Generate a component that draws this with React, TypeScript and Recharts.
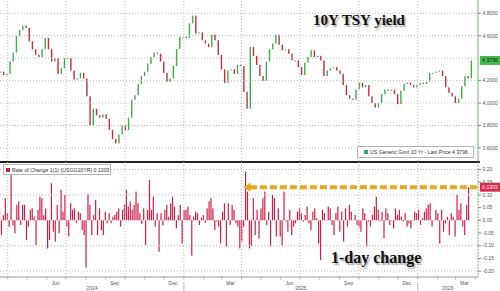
import React from "react";
import {
  ComposedChart,
  Bar,
  XAxis,
  YAxis,
  CartesianGrid,
  ReferenceLine,
  ReferenceDot
} from "recharts";

// time axis: days since 20 Mar 2024
const START = Date.UTC(2024, 2, 20);
const DAY_MS = 86400000;
const dayOf = (y: number, m: number, d: number) =>
  (Date.UTC(y, m - 1, d) - START) / DAY_MS;
const X_MAX = 746;

// 10Y yield, one close every 5 calendar days
const YIELD_STEP = 5;
const yieldClose = [
  4.28, 4.25, 4.26, 4.37, 4.45, 4.6, 4.65, 4.69, 4.67, 4.55,
  4.48, 4.43, 4.41, 4.48, 4.58, 4.48, 4.37, 4.4, 4.26, 4.31,
  4.4, 4.4, 4.29, 4.21, 4.22, 4.27, 4.22, 4.06, 3.8, 3.95,
  3.89, 3.87, 3.9, 3.86, 3.76, 3.68, 3.64, 3.72, 3.8, 3.76,
  3.87, 4.03, 4.07, 4.17, 4.24, 4.28, 4.35, 4.41, 4.45, 4.44,
  4.37, 4.27, 4.19, 4.22, 4.33, 4.48, 4.59, 4.59, 4.58, 4.71,
  4.78, 4.62, 4.63, 4.56, 4.53, 4.5, 4.61, 4.56, 4.43, 4.3,
  4.18, 4.29, 4.3, 4.26, 4.34, 4.33, 4.1, 3.95, 4.5, 4.42,
  4.34, 4.24, 4.2, 4.37, 4.48, 4.53, 4.61, 4.52, 4.47, 4.48,
  4.44, 4.38, 4.38, 4.32, 4.25, 4.36, 4.41, 4.47, 4.41, 4.42,
  4.38, 4.24, 4.29, 4.31, 4.32, 4.29, 4.26, 4.16, 4.07, 4.04,
  4.03, 4.12, 4.18, 4.14, 4.16, 4.06, 4.0, 3.96, 4.0, 4.08,
  4.12, 4.11, 4.12, 4.08, 3.99, 4.11, 4.17, 4.18, 4.16, 4.14,
  4.16, 4.18, 4.17, 4.19, 4.27, 4.27, 4.28, 4.29, 4.24, 4.14,
  4.09, 4.06, 4.0, 4.04, 4.15, 4.24, 4.22, 4.3796
];

// 1-day change, one bar every 3 calendar days
const CHANGE_STEP = 3;
const dailyChange = [
  0.047, -0.058, 0.02, 0.087, 0.03, -0.025, 0.179, -0.02, -0.051, 0.061,
  0.074, -0.018, 0.061, 0.061, -0.078, -0.025, 0.041, 0.047, 0.015, -0.097,
  0.041, 0.093, 0.087, 0.02, 0.047, -0.111, -0.078, 0.146, -0.045, -0.084,
  0.061, -0.051, 0.12, 0.034, 0.1, -0.025, -0.064, 0.067, 0.041, 0.047,
  -0.01, 0.034, 0.028, -0.038, -0.058, -0.186, 0.103, 0.061, -0.058, 0.02,
  0.08, -0.058, 0.047, -0.038, -0.058, 0.034, -0.012, 0.028, -0.012, 0.014,
  0.021, 0.034, 0.047, -0.025, 0.041, 0.061, 0.12, 0.054, 0.074, 0.041,
  0.061, 0.113, 0.067, 0.028, -0.015, 0.047, -0.097, 0.041, 0.159, 0.041,
  0.093, -0.025, 0.028, -0.124, 0.028, -0.02, 0.041, 0.061, 0.014, 0.067,
  0.093, 0.054, -0.032, 0.02, 0.061, -0.091, 0.041, 0.041, 0.054, 0.021,
  -0.139, 0.014, 0.034, 0.028, -0.018, 0.01, 0.021, -0.01, 0.047, 0.074,
  0.087, 0.047, -0.038, -0.005, -0.025, -0.091, 0.034, 0.067, -0.104, 0.067,
  -0.018, 0.061, 0.041, -0.012, -0.025, -0.111, -0.084, -0.025, 0.192, 0.113,
  -0.111, -0.1, 0.087, -0.058, 0.041, -0.071, 0.047, 0.087, 0.113, -0.018,
  0.034, -0.104, 0.1, 0.087, -0.064, 0.047, -0.064, -0.1, 0.113, -0.005,
  -0.045, 0.041, -0.058, -0.025, -0.012, 0.034, 0.047, 0.028, -0.005, 0.021,
  0.054, -0.012, -0.038, 0.034, 0.047, 0.008, -0.091, -0.157, 0.041, 0.028,
  0.001, 0.054, 0.047, -0.018, -0.058, 0.028, 0.054, -0.045, 0.034, -0.084,
  0.047, -0.025, 0.061, 0.034, 0.001, 0.021, -0.018, -0.025, -0.045, 0.047,
  0.028, -0.104, -0.005, -0.025, 0.021, 0.054, 0.093, 0.041, -0.005, 0.034,
  -0.071, 0.047, 0.028, -0.018, 0.001, -0.032, 0.047, 0.021, 0.041, 0.014,
  -0.005, 0.028, -0.025, -0.012, -0.032, 0.001, 0.034, 0.028, 0.041, -0.018,
  0.008, 0.034, 0.047, 0.061, 0.067, -0.025, 0.001, 0.041, 0.028, -0.091,
  0.041, -0.045, -0.012, 0.014, -0.058, 0.028, 0.014, -0.064, 0.1, 0.041,
  0.067, -0.025, -0.058, 0.061, 0.1303
];

const LAST_PRICE = 4.3796;
const LAST_CHANGE = 0.1303;
const ARROW_DAY = dayOf(2025, 4, 4);

// 4.4000 sits under the last-price tag, so only its gridline is drawn
const yieldTicks = [3.6, 3.8, 4.0, 4.2, 4.6, 4.8];
const yieldGrid = [3.6, 3.8, 4.0, 4.2, 4.4, 4.6, 4.8];
const changeTicks = [-0.2, -0.15, -0.1, -0.05, 0, 0.05, 0.1, 0.15, 0.2];
const changeGrid = [-0.2, -0.1, 0.1, 0.2];
const quarterStarts = [
  dayOf(2024, 4, 1), dayOf(2024, 7, 1), dayOf(2024, 10, 1), dayOf(2025, 1, 1),
  dayOf(2025, 4, 1), dayOf(2025, 7, 1), dayOf(2025, 10, 1), dayOf(2026, 1, 1)
];
const monthLabels: Record<number, string> = { 2: "Mar", 5: "Jun", 8: "Sep", 11: "Dec" };
const years = [2024, 2025, 2026];

const GREEN = "#3fae49";
const RED = "#c42f3a";
const BAR_RED = "#cf1f47";
const ORANGE = "#e8a621";
const AXIS_GREEN = "#66c266";
const GRID = "#bdbdbd";
const AXIS_TEXT = "#555";
const SANS = "'Liberation Sans', Arial, sans-serif";

const candles = yieldClose.map((close, i) => {
  const open = i === 0 ? close : yieldClose[i - 1];
  return {
    day: i * YIELD_STEP,
    open,
    close,
    body: [Math.min(open, close), Math.max(open, close)]
  };
});
const changes = dailyChange.map((chg, i) => ({ day: i * CHANGE_STEP, chg }));

// axis ticks: month starts (tick marks), mid-month labels, year labels
const monthStarts: number[] = [];
for (let y = 2024; y <= 2026; y++) {
  for (let m = 1; m <= 12; m++) {
    const d = dayOf(y, m, 1);
    if (d >= 0 && d <= X_MAX) monthStarts.push(d);
  }
}
const labelDays = monthStarts
  .map((d) => d + 14)
  .filter((d) => d <= X_MAX && monthLabels[new Date(START + d * DAY_MS).getUTCMonth()]);
const yearTicks = years.map((y) => {
  const a = Math.max(0, dayOf(y, 1, 1));
  const b = Math.min(X_MAX, dayOf(y + 1, 1, 1));
  return { day: (a + b) / 2, label: String(y) };
});
const xTicks = [...monthStarts, ...labelDays, ...yearTicks.map((t) => t.day)].sort(
  (a, b) => a - b
);

function Candle(props: any) {
  const { x, y, width, height, payload } = props;
  if (x == null || y == null) return null;
  const up = payload.close >= payload.open;
  const top = Math.min(y, y + height);
  const h = Math.max(Math.abs(height), 1);
  return (
    <rect x={x + width / 2 - 0.7} y={top} width={1.4} height={h} fill={up ? GREEN : RED} />
  );
}

function ChangeBar(props: any) {
  const { x, y, width, height } = props;
  if (x == null || y == null) return null;
  const top = Math.min(y, y + height);
  const h = Math.max(Math.abs(height), 0.5);
  return <rect x={x + width / 2 - 0.6} y={top} width={1.2} height={h} fill={BAR_RED} />;
}

function PriceTag({ cx, cy, fill, text, color }: any) {
  return (
    <g>
      <rect x={cx + 2} y={cy - 4.5} width={20} height={9} fill={fill} />
      <text x={cx + 12} y={cy + 1.8} textAnchor="middle" fontSize={5.2} fill={color} fontFamily={SANS}>
        {text}
      </text>
    </g>
  );
}

function ArrowHead({ cx, cy }: any) {
  return <polygon points={`${cx},${cy} ${cx + 7},${cy - 4.5} ${cx + 7},${cy + 4.5}`} fill={ORANGE} />;
}

function TimeTick(props: any) {
  const { x, y, payload } = props;
  const v: number = payload.value;
  const yr = yearTicks.find((t) => t.day === v);
  if (yr) {
    return (
      <text x={x} y={y + 13} textAnchor="middle" fontSize={5} fill={AXIS_TEXT} fontFamily={SANS}>
        {yr.label}
      </text>
    );
  }
  const d = new Date(START + v * DAY_MS);
  if (d.getUTCDate() === 1) {
    return (
      <g>
        <line x1={x} x2={x} y1={y} y2={y + 2.5} stroke="#888" strokeWidth={0.6} />
        {d.getUTCMonth() === 0 && (
          <line x1={x} x2={x} y1={y + 5} y2={y + 14} stroke="#999" strokeWidth={0.7} />
        )}
      </g>
    );
  }
  const label = monthLabels[d.getUTCMonth()];
  if (!label) return <g />;
  return (
    <text x={x} y={y + 7.5} textAnchor="middle" fontSize={5} fill={AXIS_TEXT} fontFamily={SANS}>
      {label}
    </text>
  );
}

const titleStyle: React.CSSProperties = {
  position: "absolute",
  fontFamily: "'Liberation Serif', 'Times New Roman', serif",
  fontWeight: 700,
  color: "#111",
  whiteSpace: "nowrap",
  textShadow: "1.5px 1.5px 1.5px rgba(0,0,0,0.35)",
  lineHeight: 1
};

const legendStyle: React.CSSProperties = {
  position: "absolute",
  background: "#fff",
  border: "1px solid #b5b5b5",
  fontFamily: SANS,
  fontSize: 5.2,
  color: "#333",
  whiteSpace: "nowrap",
  display: "flex",
  alignItems: "center",
  boxSizing: "border-box"
};

export default function App() {
  return (
    <div
      style={{
        position: "absolute",
        left: 0,
        top: 0,
        width: 500,
        height: 291,
        background: "#fff",
        overflow: "hidden"
      }}
    >
      {/* upper panel: yield candles */}
      <div style={{ position: "absolute", left: 0, top: 0 }}>
        <ComposedChart width={500} height={161} data={candles} margin={{ top: 0, right: 0, left: 0, bottom: 0 }}>
          {yieldGrid.map((v) => (
            <ReferenceLine key={v} y={v} stroke={GRID} strokeDasharray="1 2" />
          ))}
          {quarterStarts.map((d) => (
            <ReferenceLine key={d} x={d} stroke={GRID} strokeDasharray="1 2" />
          ))}
          <XAxis type="number" dataKey="day" domain={[0, X_MAX]} allowDataOverflow hide />
          <YAxis
            orientation="right"
            width={22}
            domain={[3.4836, 4.9185]}
            allowDataOverflow
            ticks={yieldTicks}
            tickFormatter={(v) => v.toFixed(4)}
            tick={{ fontSize: 5, fill: AXIS_TEXT, fontFamily: SANS }}
            tickSize={3}
            tickMargin={1.5}
            tickLine={{ stroke: "#888" }}
            axisLine={{ stroke: AXIS_GREEN }}
          />
          <Bar dataKey="body" barSize={2} shape={<Candle />} isAnimationActive={false} />
          <ReferenceDot
            x={X_MAX}
            y={LAST_PRICE}
            ifOverflow="visible"
            shape={(p: any) => <PriceTag {...p} fill="#44b84e" color="#0b2b0b" text={LAST_PRICE.toFixed(4)} />}
          />
        </ComposedChart>
      </div>

      <div style={{ ...titleStyle, left: 313, top: 13, fontSize: 15 }}>10Y TSY yield</div>

      <div style={{ ...legendStyle, left: 357, top: 146, width: 117, height: 12 }}>
        <span style={{ width: 4, height: 4, background: GREEN, margin: "0 2px 0 6px" }} />
        <span>US Generic Govt 10 Yr - Last Price 4.3796</span>
      </div>

      <div style={{ position: "absolute", left: 0, top: 160.5, width: 480, height: 2, background: "#222" }} />

      {/* lower panel: 1-day change */}
      <div style={{ position: "absolute", left: 0, top: 162 }}>
        <ComposedChart width={500} height={129} data={changes} margin={{ top: 0, right: 0, left: 0, bottom: 0 }}>
          {quarterStarts.map((d) => (
            <ReferenceLine key={d} x={d} stroke={GRID} strokeDasharray="1 2" />
          ))}
          {changeGrid.map((v) => (
            <ReferenceLine key={v} y={v} stroke={GRID} strokeDasharray="1 2" />
          ))}
          <XAxis
            type="number"
            dataKey="day"
            domain={[0, X_MAX]}
            allowDataOverflow
            ticks={xTicks}
            interval={0}
            height={14}
            tickSize={0}
            tickMargin={0}
            tick={<TimeTick />}
            tickLine={false}
            axisLine={{ stroke: "#999" }}
          />
          <YAxis
            orientation="right"
            width={22}
            domain={[-0.2232, 0.2295]}
            allowDataOverflow
            ticks={changeTicks}
            tickFormatter={(v) => v.toFixed(2)}
            tick={{ fontSize: 5, fill: AXIS_TEXT, fontFamily: SANS }}
            tickSize={3}
            tickMargin={1.5}
            tickLine={{ stroke: "#888" }}
            axisLine={{ stroke: AXIS_GREEN, strokeDasharray: "2 1" }}
          />
          <Bar dataKey="chg" barSize={1} shape={<ChangeBar />} isAnimationActive={false} />
          <ReferenceLine
            segment={[
              { x: ARROW_DAY + 10, y: LAST_CHANGE },
              { x: X_MAX, y: LAST_CHANGE }
            ]}
            stroke={ORANGE}
            strokeWidth={4}
            strokeDasharray="7 3"
          />
          <ReferenceDot x={ARROW_DAY} y={LAST_CHANGE} ifOverflow="visible" shape={<ArrowHead />} />
          <ReferenceDot
            x={X_MAX}
            y={LAST_CHANGE}
            ifOverflow="visible"
            shape={(p: any) => <PriceTag {...p} fill="#e0284f" color="#fff" text={LAST_CHANGE.toFixed(4)} />}
          />
        </ComposedChart>
      </div>

      <div style={{ ...legendStyle, left: 3, top: 164, width: 108, height: 11 }}>
        <span style={{ width: 4, height: 4, background: BAR_RED, margin: "0 2px 0 2px" }} />
        <span>Rate of Change 1(1) (USGG10YR) 0.1303</span>
      </div>

      <div style={{ ...titleStyle, left: 331, top: 250, fontSize: 16 }}>1-day change</div>
    </div>
  );
}
